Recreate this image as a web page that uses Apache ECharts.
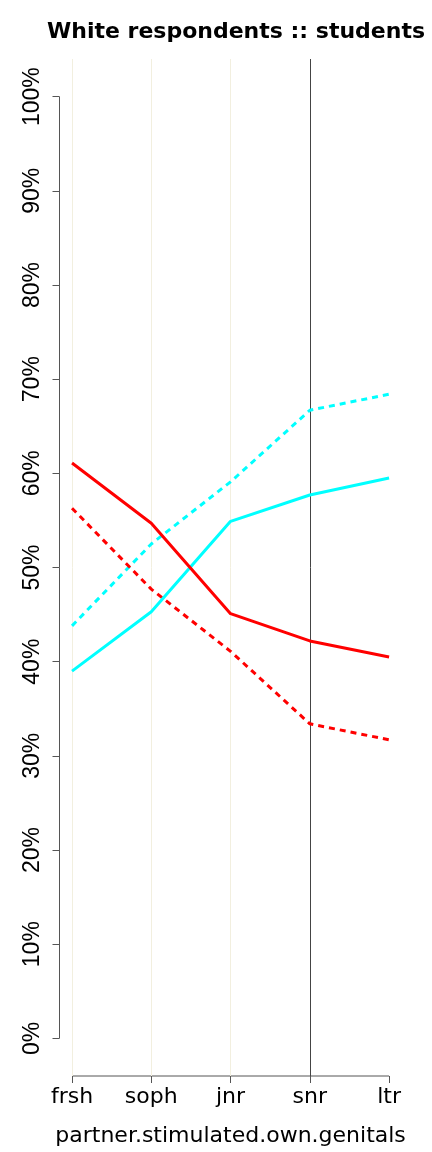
<!DOCTYPE html>
<html>
<head>
<meta charset="utf-8">
<script src="https://cdn.jsdelivr.net/npm/echarts@6/dist/echarts.min.js"></script>
<style>html,body{margin:0;padding:0;background:#fff}#c{width:432px;height:1152px}</style>
</head>
<body>
<div id="c"></div>
<script>
const categories = ['frsh', 'soph', 'jnr', 'snr', 'ltr'];
const redSolid   = [61.1, 54.7, 45.1, 42.2, 40.5];
const redDashed  = [56.3, 47.7, 41.1, 33.4, 31.7];
const cyanSolid  = [39.0, 45.3, 54.9, 57.7, 59.5];
const cyanDashed = [43.8, 52.5, 59.1, 66.7, 68.4];
const yTicks = [0, 10, 20, 30, 40, 50, 60, 70, 80, 90, 100];
const xTicks = [0, 1, 2, 3, 4];
const lightLines = [0, 1, 2];
const darkLines = [3];

const X_MIN = -0.158, X_MAX = 4.158, Y_MIN = -4, Y_MAX = 104;
const toPairs = arr => arr.map((v, i) => [i, v]);

const chart = echarts.init(document.getElementById('c'), null, {renderer: 'canvas'});
const lineSeries = (name, data, color, dashed) => ({
  name, type: 'line', data: toPairs(data), showSymbol: false, symbol: 'none',
  z: 5, silent: true, animation: false,
  lineStyle: {color, width: 3, type: dashed ? [6, 5] : 'solid', cap: 'butt', join: 'round'}
});

chart.setOption({
  animation: false,
  backgroundColor: '#fff',
  title: {
    text: 'White respondents :: students',
    left: 231, top: 16, textAlign: 'center',
    textStyle: {fontFamily: 'DejaVu Sans', fontWeight: 'bold', fontSize: 22, color: '#000'}
  },
  grid: {left: 59.5, right: 30.4, top: 59, bottom: 74},
  xAxis: {
    type: 'value', min: X_MIN, max: X_MAX,
    axisLine: {show: false, onZero: false}, splitLine: {show: false},
    axisTick: {show: true, customValues: xTicks, length: 7, lineStyle: {color: '#555', width: 1}},
    axisLabel: {customValues: xTicks, formatter: v => categories[v] || '', margin: 10,
      fontFamily: 'DejaVu Sans', fontSize: 22, color: '#000'},
    name: 'partner.stimulated.own.genitals', nameLocation: 'middle', nameGap: 49,
    nameTextStyle: {fontFamily: 'DejaVu Sans', fontSize: 22, color: '#000'}
  },
  yAxis: {
    type: 'value', min: Y_MIN, max: Y_MAX,
    axisLine: {show: false, onZero: false}, splitLine: {show: false},
    axisTick: {show: true, customValues: yTicks, length: 7, lineStyle: {color: '#555', width: 1}},
    axisLabel: {customValues: yTicks, formatter: v => v + '%', rotate: 90, margin: 15,
      fontFamily: 'Liberation Sans', fontSize: 23, color: '#000'}
  },
  series: [
    {
      type: 'line', data: [], z: 1, silent: true,
      markLine: {
        silent: true, symbol: ['none', 'none'], label: {show: false}, animation: false,
        data: lightLines.map(v => ({xAxis: v, lineStyle: {color: '#F2EFDF', width: 1, type: 'solid'}}))
          .concat(darkLines.map(v => ({xAxis: v, lineStyle: {color: '#444', width: 1, type: 'solid'}})))
      }
    },
    {type: 'line', data: [[X_MIN, 0], [X_MIN, 100]], clip: false, symbol: 'none', silent: true, z: 2,
      lineStyle: {color: '#555', width: 1}},
    {type: 'line', data: [[0, Y_MIN], [4, Y_MIN]], clip: false, symbol: 'none', silent: true, z: 2,
      lineStyle: {color: '#555', width: 1}},
    lineSeries('cyan dashed', cyanDashed, '#00FFFF', true),
    lineSeries('red dashed', redDashed, '#FF0000', true),
    lineSeries('cyan solid', cyanSolid, '#00FFFF', false),
    lineSeries('red solid', redSolid, '#FF0000', false)
  ]
});
</script>
</body>
</html>
